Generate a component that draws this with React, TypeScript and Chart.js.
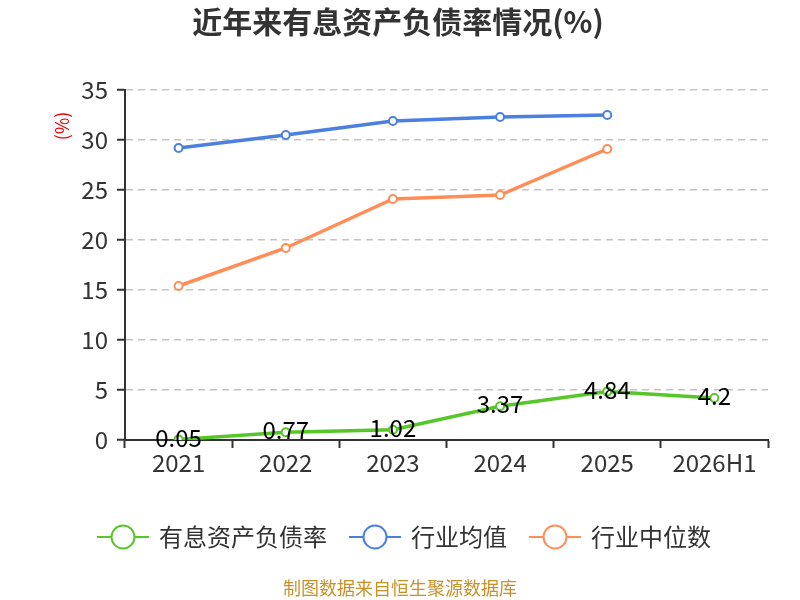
import { useEffect, useRef } from 'react';
import Chart from 'chart.js/auto';

const categories = ['2021', '2022', '2023', '2024', '2025', '2026H1'];
const debtRatio = [0.05, 0.77, 1.02, 3.37, 4.84, 4.2];
const industryAvg = [29.2, 30.5, 31.9, 32.3, 32.5, null];
const industryMedian = [15.4, 19.2, 24.1, 24.5, 29.1, null];
const seriesNames = ['有息资产负债率', '行业均值', '行业中位数'];
const seriesColors = ['#56c628', '#4b7fe0', '#ff8d57'];
const yTicks = { min: 0, max: 35, step: 5 };

const FONT = '"Noto Sans CJK SC", "Noto Sans", sans-serif';

// title, unit label, value labels, custom legend and footer
const decorPlugin = {
  id: 'decor',
  afterDraw(chart: any) {
    const ctx = chart.ctx;
    const w = chart.width;
    ctx.save();

    ctx.fillStyle = '#333';
    ctx.font = `bold 30px ${FONT}`;
    ctx.textAlign = 'center';
    ctx.textBaseline = 'middle';
    ctx.fillText('近年来有息资产负债率情况(%)', w / 2 - 2, 22);

    ctx.save();
    ctx.translate(62, 126);
    ctx.rotate(-Math.PI / 2);
    ctx.fillStyle = '#e00';
    ctx.font = `18px ${FONT}`;
    ctx.fillText('(%)', 0, 0);
    ctx.restore();

    // value labels of the first series
    const meta = chart.getDatasetMeta(0);
    ctx.fillStyle = '#000';
    ctx.font = `24px ${FONT}`;
    meta.data.forEach((pt: any, i: number) => {
      ctx.fillText(String(debtRatio[i]), pt.x, pt.y - 2);
    });

    // legend
    ctx.font = `24px ${FONT}`;
    const lineW = 52;
    const gapText = 10;
    const gapItem = 22;
    const widths = seriesNames.map((n) => lineW + gapText + ctx.measureText(n).width);
    const total = widths.reduce((a, b) => a + b, 0) + gapItem * (seriesNames.length - 1);
    let x = w / 2 - total / 2 + 4;
    const ly = 537;
    seriesNames.forEach((name, i) => {
      ctx.strokeStyle = seriesColors[i];
      ctx.lineWidth = 2;
      ctx.beginPath();
      ctx.moveTo(x, ly);
      ctx.lineTo(x + lineW, ly);
      ctx.stroke();
      ctx.beginPath();
      ctx.arc(x + lineW / 2, ly, 11.5, 0, Math.PI * 2);
      ctx.fillStyle = '#fff';
      ctx.fill();
      ctx.stroke();
      ctx.fillStyle = '#333';
      ctx.textAlign = 'left';
      ctx.fillText(name, x + lineW + gapText, ly);
      x += widths[i] + gapItem;
    });

    ctx.fillStyle = '#c8922a';
    ctx.font = `18px ${FONT}`;
    ctx.textAlign = 'center';
    ctx.fillText('制图数据来自恒生聚源数据库', w / 2, 588);
    ctx.restore();
  },
};

export default function App() {
  const chartRef = useRef<HTMLCanvasElement>(null);
  const chartInstance = useRef<Chart | null>(null);

  useEffect(() => {
    document.body.style.margin = '0';
    if (!chartRef.current) return;
    if (chartInstance.current) chartInstance.current.destroy();

    const ds = (label: string, data: (number | null)[], color: string) => ({
      label,
      data,
      borderColor: color,
      backgroundColor: '#fff',
      borderWidth: 3.5,
      pointRadius: 4,
      pointBorderWidth: 2,
      pointBackgroundColor: '#fff',
      pointBorderColor: color,
      tension: 0,
    });

    chartInstance.current = new Chart(chartRef.current, {
      type: 'line',
      data: {
        labels: categories,
        datasets: [
          ds(seriesNames[0], debtRatio, seriesColors[0]),
          ds(seriesNames[1], industryAvg, seriesColors[1]),
          ds(seriesNames[2], industryMedian, seriesColors[2]),
        ],
      },
      options: {
        responsive: false,
        animation: false,
        layout: { padding: { top: 90, right: 32, bottom: 120, left: 0 } },
        plugins: {
          legend: { display: false },
          title: { display: false },
          tooltip: { enabled: false },
        },
        scales: {
          x: {
            offset: true,
            grid: {
              drawOnChartArea: false,
              drawTicks: true,
              tickLength: 8,
              tickColor: '#333',
              tickWidth: 2,
              offset: true,
            },
            border: { color: '#333', width: 2 },
            ticks: { color: '#333', font: { size: 24, family: FONT }, padding: 0 },
            afterFit: (s: any) => {
              s.height = 40;
            },
          },
          y: {
            min: yTicks.min,
            max: yTicks.max,
            ticks: {
              stepSize: yTicks.step,
              color: '#333',
              font: { size: 24, family: FONT },
              padding: 9,
            },
            grid: {
              color: '#c4c4c4',
              lineWidth: 1.5,
              tickColor: '#333',
              tickWidth: 2,
              tickLength: 8,
            },
            border: { color: '#333', width: 2, dash: [7, 5] },
            afterFit: (s: any) => {
              s.width = 125;
            },
          },
        },
      },
      plugins: [decorPlugin],
    });

    return () => {
      if (chartInstance.current) {
        chartInstance.current.destroy();
        chartInstance.current = null;
      }
    };
  }, []);

  return (
    <div style={{ width: 800, height: 600 }}>
      <canvas ref={chartRef} width={800} height={600} />
    </div>
  );
}
